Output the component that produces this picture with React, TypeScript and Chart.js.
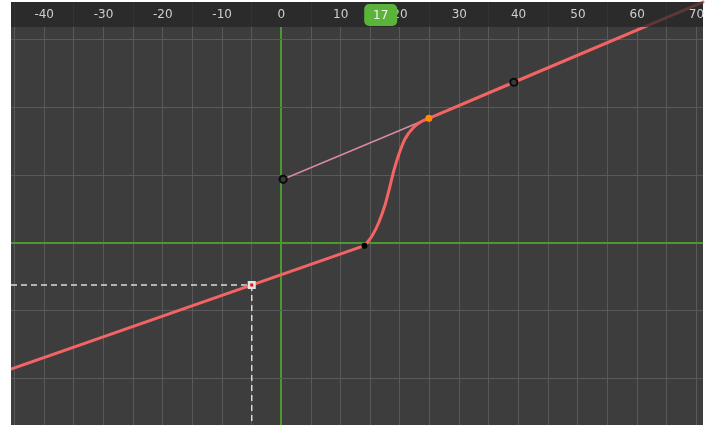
import React, { useEffect, useRef } from "react";
import { Chart, registerables } from "chart.js";

Chart.register(...registerables);

// ---- data ----
const X_GRID = [-45, -40, -35, -30, -25, -20, -15, -10, -5, 0, 5, 10, 15, 20, 25, 30, 35, 40, 45, 50, 55, 60, 65, 70];
const Y_GRID = [-2, -1, 0, 1, 2, 3];
const X_RANGE = [-45.6, 71.1];
const Y_RANGE = [-2.688, 3.19];

const LEFT_X = [-45.6, 14.0];
const LEFT_Y = [-1.861, -0.04];
const CURVE_X = [14.0, 15.28, 16.46, 17.47, 18.23, 18.99, 19.83, 20.84, 22.19, 23.54, 24.87];
const CURVE_Y = [-0.04, 0.103, 0.31, 0.561, 0.812, 1.078, 1.315, 1.536, 1.699, 1.79, 1.842];
const RIGHT_X = [24.87, 39.2, 71.1];
const RIGHT_Y = [1.842, 2.374, 3.557];

const KEY_X = [14.0, 24.87];
const KEY_Y = [-0.04, 1.842];
const KEY_COLORS = ["#000000", "#ff8c00"];
const HANDLE_X = [0.3, 24.87, 39.2];
const HANDLE_Y = [0.941, 1.842, 2.374];

const CURSOR_X = -5;
const CURSOR_Y = -0.62;
const CURRENT_FRAME = 17;

const BG = "#3d3d3d";
const GRID = "#595959";
const GREEN = "#4c9a2e";
const RED = "#f46464";

const pts = (xs: number[], ys: number[]) => xs.map((x, i) => ({ x, y: ys[i] }));

const headerPlugin = {
  id: "header",
  beforeDraw(chart: any) {
    const { ctx, chartArea, scales } = chart;
    const xs = scales.x;
    ctx.save();
    ctx.fillStyle = BG;
    ctx.fillRect(chartArea.left, xs.top, chartArea.right - chartArea.left, chartArea.bottom - xs.top);
    ctx.restore();
  },
  afterDatasetsDraw(chart: any) {
    const { ctx, chartArea, scales } = chart;
    const xs = scales.x;
    ctx.save();
    ctx.fillStyle = "rgba(36,36,36,0.72)";
    ctx.fillRect(chartArea.left, xs.top, chartArea.right - chartArea.left, xs.bottom - xs.top);
    ctx.restore();
  },
  afterDraw(chart: any) {
    const { ctx, scales } = chart;
    const xs = scales.x;
    const cx = xs.getPixelForValue(CURRENT_FRAME) - 1.5;
    const w = 33;
    const h = 22;
    const top = xs.top + 2;
    ctx.save();
    ctx.fillStyle = "#5ab43a";
    ctx.beginPath();
    (ctx as any).roundRect(cx - w / 2, top, w, h, 5);
    ctx.fill();
    ctx.fillStyle = "#f2f2f2";
    ctx.font = "12px 'DejaVu Sans'";
    ctx.textAlign = "center";
    ctx.textBaseline = "middle";
    ctx.fillText(String(CURRENT_FRAME), cx, top + h / 2 + 0.5);
    ctx.restore();
  },
};

export default function App() {
  const ref = useRef<HTMLCanvasElement | null>(null);

  useEffect(() => {
    if (!ref.current) return;
    Chart.defaults.font.family = "'DejaVu Sans'";
    const chart = new Chart(ref.current, {
      type: "line",
      data: {
        datasets: [
          {
            label: "cursor",
            data: pts([CURSOR_X], [CURSOR_Y]),
            showLine: false,
            pointStyle: "rect",
            pointRadius: 3.9,
            pointBackgroundColor: "#e01010",
            pointBorderColor: "#e4e4e4",
            pointBorderWidth: 2.5,
            order: 0,
          },
          {
            label: "keys",
            data: pts(KEY_X, KEY_Y),
            showLine: false,
            pointRadius: [3, 3.5],
            pointBackgroundColor: KEY_COLORS,
            pointBorderColor: KEY_COLORS,
            pointBorderWidth: 0,
            order: 0,
          },
          {
            label: "handles",
            data: pts([HANDLE_X[0], HANDLE_X[2]], [HANDLE_Y[0], HANDLE_Y[2]]),
            showLine: false,
            pointRadius: 3.6,
            pointBackgroundColor: "#3a3a3a",
            pointBorderColor: "#0a0a0a",
            pointBorderWidth: 2,
            order: 0,
          },
          {
            label: "left",
            data: pts(LEFT_X, LEFT_Y),
            borderColor: RED,
            borderWidth: 3,
            borderCapStyle: "round",
            pointRadius: 0,
            order: 1,
          },
          {
            label: "curve",
            data: pts(CURVE_X, CURVE_Y),
            borderColor: RED,
            borderWidth: 3,
            borderCapStyle: "round",
            borderJoinStyle: "round",
            cubicInterpolationMode: "monotone",
            pointRadius: 0,
            order: 1,
          },
          {
            label: "right",
            data: pts(RIGHT_X, RIGHT_Y),
            borderColor: RED,
            borderWidth: 3,
            borderCapStyle: "round",
            pointRadius: 0,
            clip: false,
            order: 1,
          },
          {
            label: "handleLine",
            data: pts(HANDLE_X, HANDLE_Y),
            borderColor: "#d98aa3",
            borderWidth: 1.5,
            pointRadius: 0,
            order: 2,
          },
          {
            label: "dashH",
            data: pts([X_RANGE[0], CURSOR_X], [CURSOR_Y, CURSOR_Y]),
            borderColor: "#dadada",
            borderWidth: 1.5,
            borderDash: [6, 4],
            pointRadius: 0,
            order: 3,
          },
          {
            label: "dashV",
            data: pts([CURSOR_X, CURSOR_X], [CURSOR_Y, Y_RANGE[0]]),
            borderColor: "#dadada",
            borderWidth: 1.5,
            borderDash: [6, 4],
            pointRadius: 0,
            order: 3,
          },
        ],
      },
      options: {
        animation: false,
        responsive: false,
        events: [],
        layout: { autoPadding: false, padding: { left: 11, right: 11, top: 2, bottom: 0 } },
        plugins: { legend: { display: false }, tooltip: { enabled: false } },
        scales: {
          x: {
            type: "linear",
            position: "top",
            min: X_RANGE[0],
            max: X_RANGE[1],
            afterBuildTicks: (axis: any) => {
              axis.ticks = X_GRID.map((v) => ({ value: v }));
            },
            afterFit: (axis: any) => {
              axis.height = 25;
              axis.paddingLeft = 0;
              axis.paddingRight = 0;
              axis.paddingTop = 0;
              axis.paddingBottom = 0;
            },
            border: { display: false },
            grid: {
              color: (c: any) => (c.tick && c.tick.value === 0 ? GREEN : GRID),
              lineWidth: (c: any) => (c.tick && c.tick.value === 0 ? 2 : 1),
              tickLength: 25,
              tickColor: (c: any) => (c.tick && c.tick.value % 10 !== 0 ? GRID : "rgba(0,0,0,0)"),
              tickWidth: 1,
            },
            ticks: {
              z: 1,
              padding: -20.2,
              autoSkip: false,
              maxRotation: 0,
              minRotation: 0,
              color: "#cfcfcf",
              font: { size: 12, family: "'DejaVu Sans'" },
              callback: (v: any) => (Number(v) % 10 === 0 ? String(v) : ""),
            },
          },
          y: {
            type: "linear",
            min: Y_RANGE[0],
            max: Y_RANGE[1],
            afterBuildTicks: (axis: any) => {
              axis.ticks = Y_GRID.map((v) => ({ value: v }));
            },
            afterFit: (axis: any) => {
              axis.width = 0;
              axis.paddingLeft = 0;
              axis.paddingRight = 0;
              axis.paddingTop = 0;
              axis.paddingBottom = 0;
            },
            border: { display: false },
            grid: {
              color: (c: any) => (c.tick && c.tick.value === 0 ? GREEN : GRID),
              lineWidth: (c: any) => (c.tick && c.tick.value === 0 ? 2 : 1),
              drawTicks: false,
            },
            ticks: { display: false },
          },
        },
      } as any,
      plugins: [headerPlugin],
    });
    return () => chart.destroy();
  }, []);

  return (
    <div style={{ position: "absolute", left: 0, top: 0, width: 714, height: 425, background: "#ffffff" }}>
      <canvas ref={ref} width={714} height={425} style={{ display: "block" }} />
    </div>
  );
}
